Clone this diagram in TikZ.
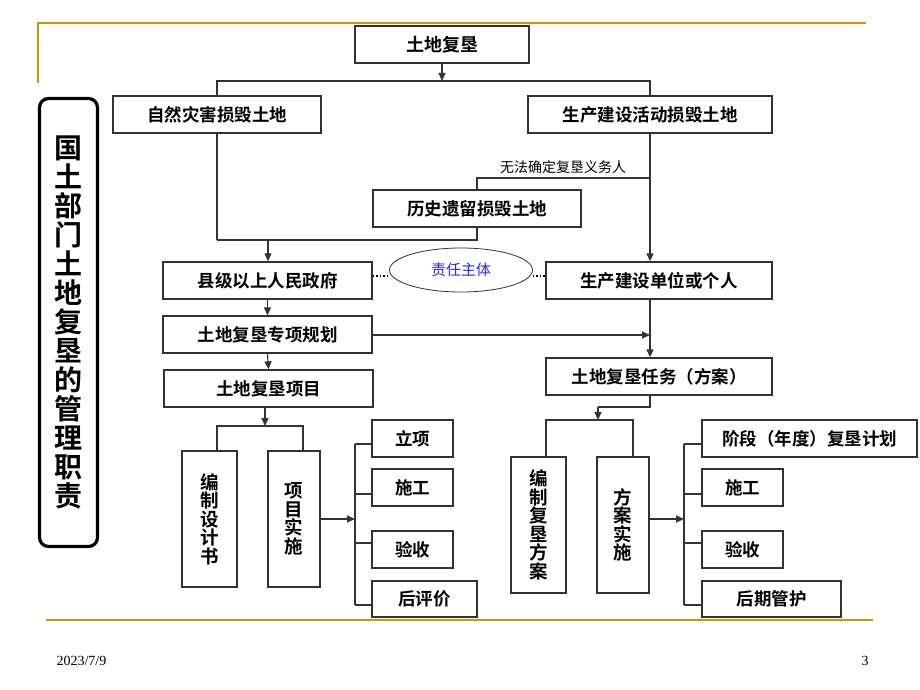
\documentclass[tikz,border=0pt]{standalone}
\usepackage{fontspec}
\setmainfont{Noto Sans CJK SC}[BoldFont={Noto Sans CJK SC Bold}]
\newfontfamily\serifnum{Liberation Serif}
\usetikzlibrary{arrows.meta,shapes.geometric}
\definecolor{gold}{RGB}{204,153,0}
\definecolor{boxline}{RGB}{50,50,50}
\tikzset{
  box/.style={draw=boxline,line width=1.3pt,fill=white,inner sep=0pt,font=\bfseries\fontsize{17.5}{17.5}\selectfont},
  vbox/.style={box,align=center,font=\bfseries\fontsize{18.5}{18.5}\selectfont},
  conn/.style={draw=black!80,line width=1.1pt},
  arr/.style={conn,-{Triangle[length=8pt,width=7pt]}},
  goldline/.style={draw=gold,line width=2pt},
  dots/.style={draw=black,dotted,line width=1.5pt}
}
\begin{document}
\begin{tikzpicture}[x=1pt,y=-1pt]
\useasboundingbox (0,0) rectangle (920,690);
% frame decorations
\draw[goldline] (38,83) -- (38,23) -- (866,23);
\draw[goldline] (46,620) -- (873,620);
\node[draw=black,line width=3.2pt,rounded corners=9pt,minimum width=58pt,minimum height=448pt,inner sep=0pt] (side) at (68.5,322.5) {};
\node[align=center,font=\bfseries\fontsize{28}{29}\selectfont] (sidetext) at (68.5,322) {国\\土\\部\\门\\土\\地\\复\\垦\\的\\管\\理\\职\\责};
% connectors under boxes
\draw[conn] (217,240) -- (217,81) -- (650,81) -- (650,178);
\draw[conn] (650,178) -- (477,178) -- (477,240) -- (217,240);
% boxes
\node[box,minimum width=174pt,minimum height=37pt,font=\bfseries\fontsize{18}{18}\selectfont] (top) at (442,44.5) {土地复垦};
\node[box,minimum width=208pt,minimum height=37pt] (zr) at (217,114.5) {自然灾害损毁土地};
\node[box,minimum width=244pt,minimum height=37pt] (sc) at (650,114.5) {生产建设活动损毁土地};
\node[box,minimum width=208pt,minimum height=37pt] (ls) at (477,208.5) {历史遗留损毁土地};
\node[font=\fontsize{14}{14}\selectfont,anchor=south] (wf) at (563,177) {无法确定复垦义务人};
\node[box,minimum width=209pt,minimum height=37pt] (xj) at (267.5,280.5) {县级以上人民政府};
\node[box,minimum width=226pt,minimum height=37pt] (dw) at (659,280.5) {生产建设单位或个人};
\node[draw=black!80,line width=0.8pt,ellipse,minimum width=143pt,minimum height=44pt,inner sep=0pt,text={rgb,255:red,40;green,40;blue,240},font=\fontsize{15}{15}\selectfont] (zt) at (461,270) {责任主体};
\node[box,minimum width=209pt,minimum height=37pt] (gh) at (267.5,334.5) {土地复垦专项规划};
\node[box,minimum width=209pt,minimum height=37pt] (xm) at (268.5,388.5) {土地复垦项目};
\node[box,minimum width=226pt,minimum height=37pt] (rw) at (659,376.5) {土地复垦任务（方案）};
\node[vbox,minimum width=55pt,minimum height=136pt] (sj) at (209.5,519) {编\\制\\设\\计\\书};
\node[vbox,minimum width=52pt,minimum height=136pt] (ss) at (294,519) {项\\目\\实\\施};
\node[box,minimum width=81pt,minimum height=37pt] (lx) at (412.5,438.5) {立项};
\node[box,minimum width=81pt,minimum height=37pt] (sg1) at (412.5,487.5) {施工};
\node[box,minimum width=81pt,minimum height=37pt] (ys1) at (412.5,549.5) {验收};
\node[box,minimum width=105pt,minimum height=36pt] (hp) at (424.5,599) {后评价};
\node[vbox,minimum width=55pt,minimum height=136pt] (fa) at (538.5,525) {编\\制\\复\\垦\\方\\案};
\node[vbox,minimum width=52pt,minimum height=136pt] (fs) at (623,525) {方\\案\\实\\施};
\node[box,minimum width=215pt,minimum height=37pt] (jd) at (809.5,438.5) {阶段（年度）复垦计划};
\node[box,minimum width=81pt,minimum height=37pt] (sg2) at (742.5,487.5) {施工};
\node[box,minimum width=81pt,minimum height=37pt] (ys2) at (742.5,549.5) {验收};
\node[box,minimum width=139pt,minimum height=36pt] (hq) at (771.5,599) {后期管护};
% arrows
\draw[arr] (top.south) -- (442,81);
\draw[arr] (268,240) -- (xj.north -| 268,0);
\draw[arr] (sc.south) -- (dw.north -| sc.south);
\draw[dots] (xj.east |- 0,276) -- (zt.west |- 0,276);
\draw[dots] (zt.east |- 0,276) -- (dw.west |- 0,276);
\draw[arr] (xj.south) -- (gh.north);
\draw[arr] (gh.south) -- (xm.north);
\draw[arr] (gh.east |- 0,335) -- (650,335);
\draw[arr] (dw.south -| 650,0) -- (rw.north -| 650,0);
% left bracket
\draw[arr] (265,407) -- (265,426);
\draw[conn] (sj.north -| 217,0) -- (217,426) -- (303,426) -- (ss.north -| 303,0);
\draw[arr] (ss.east |- 0,519) -- (355,519);
\draw[conn] (355,444) -- (355,605);
\draw[conn] (355,444) -- (lx.west |- 0,444);
\draw[conn] (355,494) -- (sg1.west |- 0,494);
\draw[conn] (355,543) -- (ys1.west |- 0,543);
\draw[conn] (355,605) -- (hp.west |- 0,605);
% right bracket
\draw[conn] (650,395) -- (650,407) -- (598,407);
\draw[arr] (598,407) -- (598,420);
\draw[conn] (fa.north -| 546,0) -- (546,420) -- (633,420) -- (fs.north -| 633,0);
\draw[arr] (fs.east |- 0,519) -- (684,519);
\draw[conn] (684,444) -- (684,605);
\draw[conn] (684,444) -- (jd.west |- 0,444);
\draw[conn] (684,494) -- (sg2.west |- 0,494);
\draw[conn] (684,543) -- (ys2.west |- 0,543);
\draw[conn] (684,605) -- (hq.west |- 0,605);
% footer
\node[anchor=west,font=\serifnum\fontsize{14}{14}\selectfont] (date) at (53,661) {2023/7/9};
\node[anchor=west,font=\serifnum\fontsize{14}{14}\selectfont] (page) at (858,661) {3};
\end{tikzpicture}
\end{document}
